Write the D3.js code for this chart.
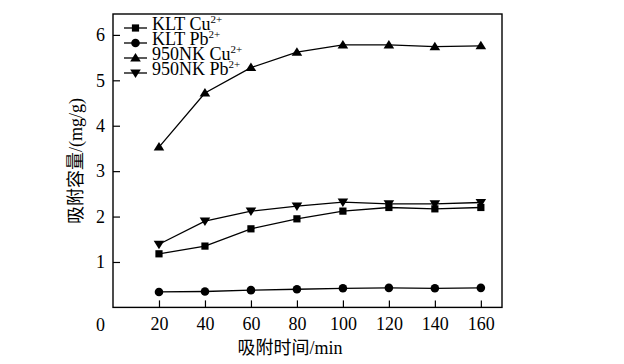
<!DOCTYPE html>
<html><head><meta charset="utf-8">
<script src="https://cdn.jsdelivr.net/npm/d3@7"></script>
<style>
html,body{margin:0;padding:0;background:#fff;}
svg{display:block;}
text{font-family:"Liberation Serif","Times New Roman",serif;fill:#000;}
.cjk{font-family:"Liberation Serif","Noto Sans CJK SC",serif;}
</style></head>
<body>
<svg id="c" width="624" height="364"></svg>
<script>
const times = [20, 40, 60, 80, 100, 120, 140, 160];
const kltCu = [1.18, 1.35, 1.73, 1.95, 2.12, 2.20, 2.17, 2.20];
const kltPb = [0.34, 0.35, 0.38, 0.40, 0.42, 0.43, 0.42, 0.43];
const nkCu  = [3.53, 4.72, 5.28, 5.62, 5.78, 5.78, 5.74, 5.76];
const nkPb  = [1.39, 1.90, 2.12, 2.23, 2.32, 2.28, 2.28, 2.31];
const seriesNames = ["KLT Cu", "KLT Pb", "950NK Cu", "950NK Pb"];
const seriesSup = ["2+", "2+", "2+", "2+"];
const xTicks = [20, 40, 60, 80, 100, 120, 140, 160];
const yTicks = [1, 2, 3, 4, 5, 6];
const xTitle = "吸附时间/min";
const yTitle = "吸附容量/(mg/g)";

const series = [
  {name: seriesNames[0], sup: seriesSup[0], values: kltCu, sym: "square"},
  {name: seriesNames[1], sup: seriesSup[1], values: kltPb, sym: "circle"},
  {name: seriesNames[2], sup: seriesSup[2], values: nkCu, sym: "tri"},
  {name: seriesNames[3], sup: seriesSup[3], values: nkPb, sym: "itri"}
];

const L = 113, R = 502, T = 14, B = 307.4;
const svg = d3.select("#c");
const x = d3.scaleLinear().domain([0, 169.2]).range([L, R]);
const y = d3.scaleLinear().domain([0, 6.46]).range([B, T]);

function marker(g, type, cx, cy) {
  if (type === "square") {
    g.append("rect").attr("x", cx - 3.6).attr("y", cy - 3.6).attr("width", 7.2).attr("height", 7.2).attr("fill", "#000");
  } else if (type === "circle") {
    g.append("circle").attr("cx", cx).attr("cy", cy).attr("r", 4.3).attr("fill", "#000");
  } else if (type === "tri") {
    g.append("path").attr("d", `M${cx},${cy-5}L${cx+5.3},${cy+3.5}L${cx-5.3},${cy+3.5}Z`).attr("fill", "#000");
  } else {
    g.append("path").attr("d", `M${cx},${cy+5}L${cx+5.3},${cy-3.5}L${cx-5.3},${cy-3.5}Z`).attr("fill", "#000");
  }
}

// axes
const xAxis = d3.axisBottom(x).tickValues(xTicks).tickSize(-7).tickPadding(10).tickFormat(d3.format("d"));
const gx = svg.append("g").attr("transform", `translate(0,${B})`).call(xAxis);
const yAxis = d3.axisLeft(y).tickValues(yTicks).tickSize(-7).tickPadding(8).tickFormat(d3.format("d"));
const gy = svg.append("g").attr("transform", `translate(${L},0)`).call(yAxis);
[gx, gy].forEach(g => {
  g.select(".domain").remove();
  g.selectAll(".tick line").attr("stroke", "#000").attr("stroke-width", 1.2);
  g.selectAll(".tick text").style("font-size", "18px").style("font-family", "Liberation Serif");
});
gx.selectAll(".tick text").attr("dy", "0.71em");
// origin label
svg.append("text").attr("x", 105).attr("y", 330.5).attr("text-anchor", "end").style("font-size", "18px").text("0");

// frame
svg.append("rect").attr("x", L).attr("y", T).attr("width", R - L).attr("height", B - T)
  .attr("fill", "none").attr("stroke", "#000").attr("stroke-width", 1.4);

// lines and markers
const line = d3.line().x((d, i) => x(times[i])).y(d => y(d));
series.forEach(s => {
  svg.append("path").datum(s.values).attr("d", line).attr("fill", "none").attr("stroke", "#000").attr("stroke-width", 1.3);
  const g = svg.append("g");
  s.values.forEach((v, i) => marker(g, s.sym, x(times[i]), y(v)));
});

// legend
const lg = svg.append("g");
series.forEach((s, i) => {
  const cy = 28 + i * 15;
  lg.append("line").attr("x1", 124).attr("x2", 147).attr("y1", cy).attr("y2", cy).attr("stroke", "#000").attr("stroke-width", 1.3);
  marker(lg, s.sym, 135.5, cy);
  const t = lg.append("text").attr("x", 152).attr("y", cy + 1.8).style("font-size", "18px");
  t.append("tspan").text(s.name);
  t.append("tspan").attr("dy", -6.5).style("font-size", "11px").text(s.sup);
});

// titles
svg.append("text").attr("class", "cjk").attr("x", 290).attr("y", 354).attr("text-anchor", "middle").style("font-size", "18px").text(xTitle);
svg.append("text").attr("class", "cjk").attr("transform", "translate(82,161) rotate(-90)").attr("text-anchor", "middle").style("font-size", "18px").text(yTitle);
</script>
</body></html>
